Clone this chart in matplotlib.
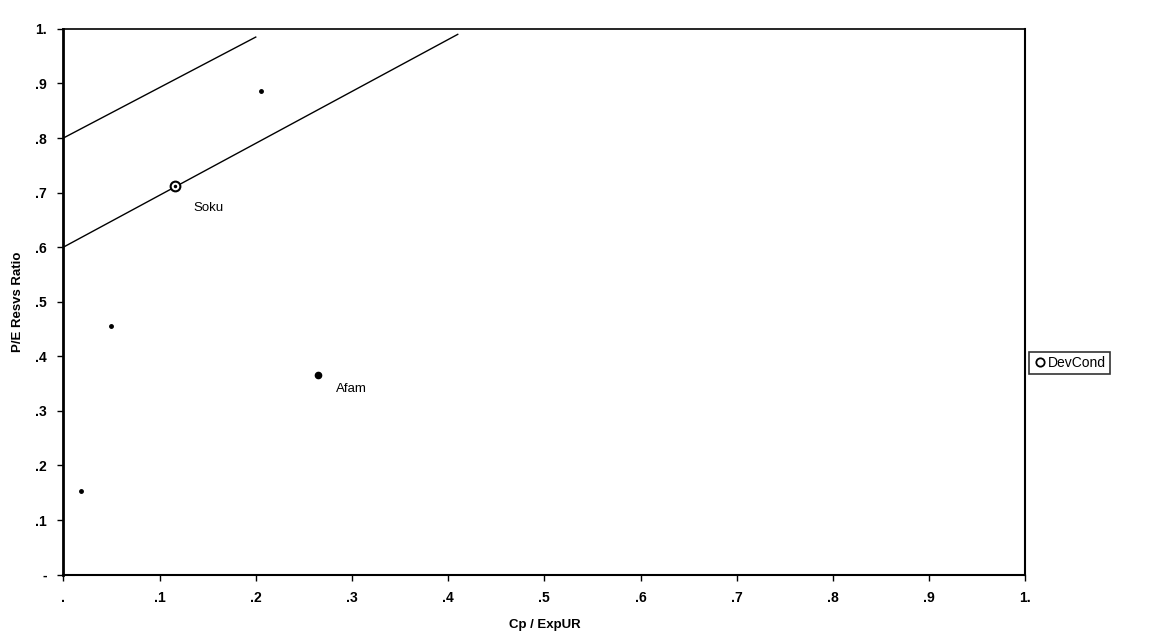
import matplotlib
matplotlib.use("Agg")
import matplotlib.pyplot as plt
from matplotlib.lines import Line2D

plt.rcParams['font.family'] = ['Liberation Sans', 'DejaVu Sans']

# Data
dev_names = ["Soku"]
dev_x = [0.116]
dev_y = [0.712]

other_names = ["Afam"]
other_x = [0.265]
other_y = [0.366]

misc_x = [0.050, 0.018, 0.205]
misc_y = [0.456, 0.154, 0.887]

upper_line_x = [0.0, 0.20]
upper_line_y = [0.80, 0.985]
lower_line_x = [0.0, 0.41]
lower_line_y = [0.60, 0.99]

tick_vals = [0, .1, .2, .3, .4, .5, .6, .7, .8, .9, 1.0]
x_tick_labels = [".", ".1", ".2", ".3", ".4", ".5", ".6", ".7", ".8", ".9", "1."]
y_tick_labels = ["-", ".1", ".2", ".3", ".4", ".5", ".6", ".7", ".8", ".9", "1."]

fig = plt.figure(figsize=(11.52, 6.42), dpi=100)
ax = fig.add_axes([0.055, 0.105, 0.835, 0.85])

ax.plot(upper_line_x, upper_line_y, color='black', lw=1.0)
ax.plot(lower_line_x, lower_line_y, color='black', lw=1.0)

ax.plot(misc_x, misc_y, 'o', color='black', ms=2.5, ls='none')
ax.plot(other_x, other_y, 'o', color='black', ms=4.5, ls='none')
for n, x, y in zip(other_names, other_x, other_y):
    ax.annotate(n, (x, y), xytext=(13, -10), textcoords='offset points',
                fontsize=9.5, ha='left', va='center')

ax.plot(dev_x, dev_y, 'o', mfc='white', mec='black', mew=1.5, ms=7, ls='none')
ax.plot(dev_x, dev_y, 'o', color='black', ms=1.5, ls='none')
for n, x, y in zip(dev_names, dev_x, dev_y):
    ax.annotate(n, (x, y), xytext=(13, -16), textcoords='offset points',
                fontsize=9.5, ha='left', va='center')

ax.set_xlim(0, 1)
ax.set_ylim(0, 1)
ax.set_xticks(tick_vals)
ax.set_xticklabels(x_tick_labels, fontsize=10, fontweight='bold')
ax.set_yticks(tick_vals)
ax.set_yticklabels(y_tick_labels, fontsize=10, fontweight='bold')
ax.tick_params(direction='out', length=4, width=1, pad=8)

ax.set_xlabel("Cp / ExpUR", fontsize=9.5, fontweight='bold', labelpad=10)
ax.set_ylabel("P/E Resvs Ratio", fontsize=9.5, fontweight='bold', labelpad=8)

ax.spines['left'].set_linewidth(2)
ax.spines['bottom'].set_linewidth(1.5)
ax.spines['top'].set_linewidth(1.2)
ax.spines['right'].set_linewidth(1.5)

handle = Line2D([], [], marker='o', mfc='white', mec='black', mew=1.3, ms=6, ls='none')
leg = fig.legend([handle], ["DevCond"], loc='center left',
                 bbox_to_anchor=(0.893, 0.435), frameon=True, fancybox=False,
                 edgecolor='black', fontsize=10, handletextpad=0.1,
                 borderpad=0.3, handlelength=1.0, borderaxespad=0)
leg.get_frame().set_linewidth(1.2)

fig.savefig("out.png", dpi=100)
